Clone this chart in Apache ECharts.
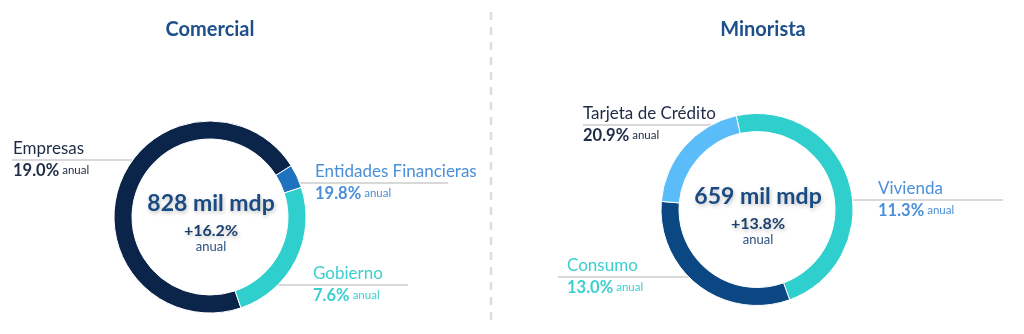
<!DOCTYPE html>
<html>
<head>
<meta charset="utf-8">
<script src="https://cdn.jsdelivr.net/npm/echarts@6/dist/echarts.min.js"></script>
<style>
  html, body { margin: 0; padding: 0; background: #ffffff; }
  #chart { width: 1024px; height: 334px; }
</style>
</head>
<body>
<div id="chart"></div>
<script>
// Commercial loan portfolio (mil mdp) and yearly growth
const comercialTitle = 'Comercial';
const comercialNames = ['Empresas', 'Entidades Financieras', 'Gobierno'];
const comercialValues = [590, 33, 205];
const comercialGrowth = ['19.0%', '19.8%', '7.6%'];
const comercialTotal = '828 mil mdp';
const comercialTotalGrowth = '+16.2%';

// Retail loan portfolio (mil mdp) and yearly growth
const minoristaTitle = 'Minorista';
const minoristaNames = ['Vivienda', 'Consumo', 'Tarjeta de Crédito'];
const minoristaValues = [316, 210, 133];
const minoristaGrowth = ['11.3%', '13.0%', '20.9%'];
const minoristaTotal = '659 mil mdp';
const minoristaTotalGrowth = '+13.8%';

const growthWord = 'anual';

// ---- styling / layout ----
const FONT = 'Lato, "Open Sans", sans-serif';
const R_OUT = 96, R_IN = 78;

const comercialStyle = {
  center: [210, 217],
  titleX: 210,
  startAngle: -71.2,
  colors: ['#0b2449', '#1f72bd', '#2ecfcd'],
  textColors: ['#1d2b44', '#4a8fd8', '#3ccfcf'],
  // label anchor (left edge, underline y) and far end of the underline
  spots: [
    { x: 13, y: 160, end: 12 },
    { x: 315, y: 183, end: 448 },
    { x: 313, y: 285, end: 408 }
  ]
};

const minoristaStyle = {
  center: [757, 209.5],
  titleX: 763,
  startAngle: 102.5,
  colors: ['#2ecfcd', '#0b4783', '#5bbcfa'],
  textColors: ['#4a8fd8', '#3ccfcf', '#1d2b44'],
  spots: [
    { x: 878, y: 200, end: 1003 },
    { x: 567, y: 277, end: 558 },
    { x: 583, y: 125, end: 583 }
  ]
};

function buildPie(names, values, growth, st) {
  const cx = st.center[0], cy = st.center[1];
  return {
    type: 'pie',
    center: st.center,
    radius: [R_IN, R_OUT],
    startAngle: st.startAngle,
    clockwise: true,
    avoidLabelOverlap: false,
    silent: true,
    itemStyle: { borderColor: '#ffffff', borderWidth: 1 },
    label: {
      show: true,
      position: 'outside',
      fontFamily: FONT,
      width: 220,
      overflow: 'none',
      formatter: function (p) {
        return '{n|' + p.name + '}\n{p|' + growth[p.dataIndex] + '} {a|' + growthWord + '}';
      },
      rich: {
        n: { fontFamily: FONT, fontSize: 17, lineHeight: 21 },
        p: { fontFamily: FONT, fontSize: 16.5, fontWeight: 'bold', lineHeight: 23 },
        a: { fontFamily: FONT, fontSize: 11.5, lineHeight: 23 }
      }
    },
    labelLine: {
      show: true,
      length: 10,
      length2: 10,
      smooth: false,
      lineStyle: { color: '#cccccc', width: 1.5 }
    },
    labelLayout: function (params) {
      const s = st.spots[params.dataIndex];
      const side = s.end < cx ? -1 : 1;
      const dy = s.y - cy;
      const ringX = cx + side * Math.sqrt(R_OUT * R_OUT - dy * dy);
      return {
        x: s.x,
        y: s.y,
        align: 'left',
        verticalAlign: 'middle',
        labelLinePoints: [[ringX, s.y], [ringX, s.y], [s.end, s.y]]
      };
    },
    data: names.map(function (n, i) {
      return {
        name: n,
        value: values[i],
        itemStyle: { color: st.colors[i] },
        label: { color: st.textColors[i] }
      };
    })
  };
}

function centerTexts(title, total, totalGrowth, st) {
  const cx = st.center[0], cy = st.center[1];
  const shadow = {
    textShadowColor: 'rgba(0,0,0,0.25)',
    textShadowBlur: 4,
    textShadowOffsetX: 1,
    textShadowOffsetY: 2
  };
  return [
    {
      type: 'text', x: st.titleX, y: 30,
      style: { text: title, fill: '#1d4f8a', font: 'bold 20px ' + FONT, align: 'center', verticalAlign: 'middle' }
    },
    {
      type: 'text', x: cx + 1, y: cy - 13,
      style: Object.assign({ text: total, fill: '#1a4a82', font: 'bold 23px ' + FONT, align: 'center', verticalAlign: 'middle' }, shadow)
    },
    {
      type: 'text', x: cx + 1, y: cy + 14,
      style: Object.assign({ text: totalGrowth, fill: '#1b3f6e', font: 'bold 16px ' + FONT, align: 'center', verticalAlign: 'middle' }, shadow)
    },
    {
      type: 'text', x: cx + 1, y: cy + 30,
      style: { text: growthWord, fill: '#2b4f7d', font: '13px ' + FONT, align: 'center', verticalAlign: 'middle' }
    }
  ];
}

const chart = echarts.init(document.getElementById('chart'), null, { renderer: 'canvas' });

chart.setOption({
  backgroundColor: '#ffffff',
  animation: false,
  graphic: [
    {
      type: 'line',
      shape: { x1: 491, y1: 12, x2: 491, y2: 322 },
      style: { stroke: '#dddddd', lineWidth: 2.5, lineDash: [8, 7] }
    }
  ]
    .concat(centerTexts(comercialTitle, comercialTotal, comercialTotalGrowth, comercialStyle))
    .concat(centerTexts(minoristaTitle, minoristaTotal, minoristaTotalGrowth, minoristaStyle)),
  series: [
    buildPie(comercialNames, comercialValues, comercialGrowth, comercialStyle),
    buildPie(minoristaNames, minoristaValues, minoristaGrowth, minoristaStyle)
  ]
});
</script>
</body>
</html>
